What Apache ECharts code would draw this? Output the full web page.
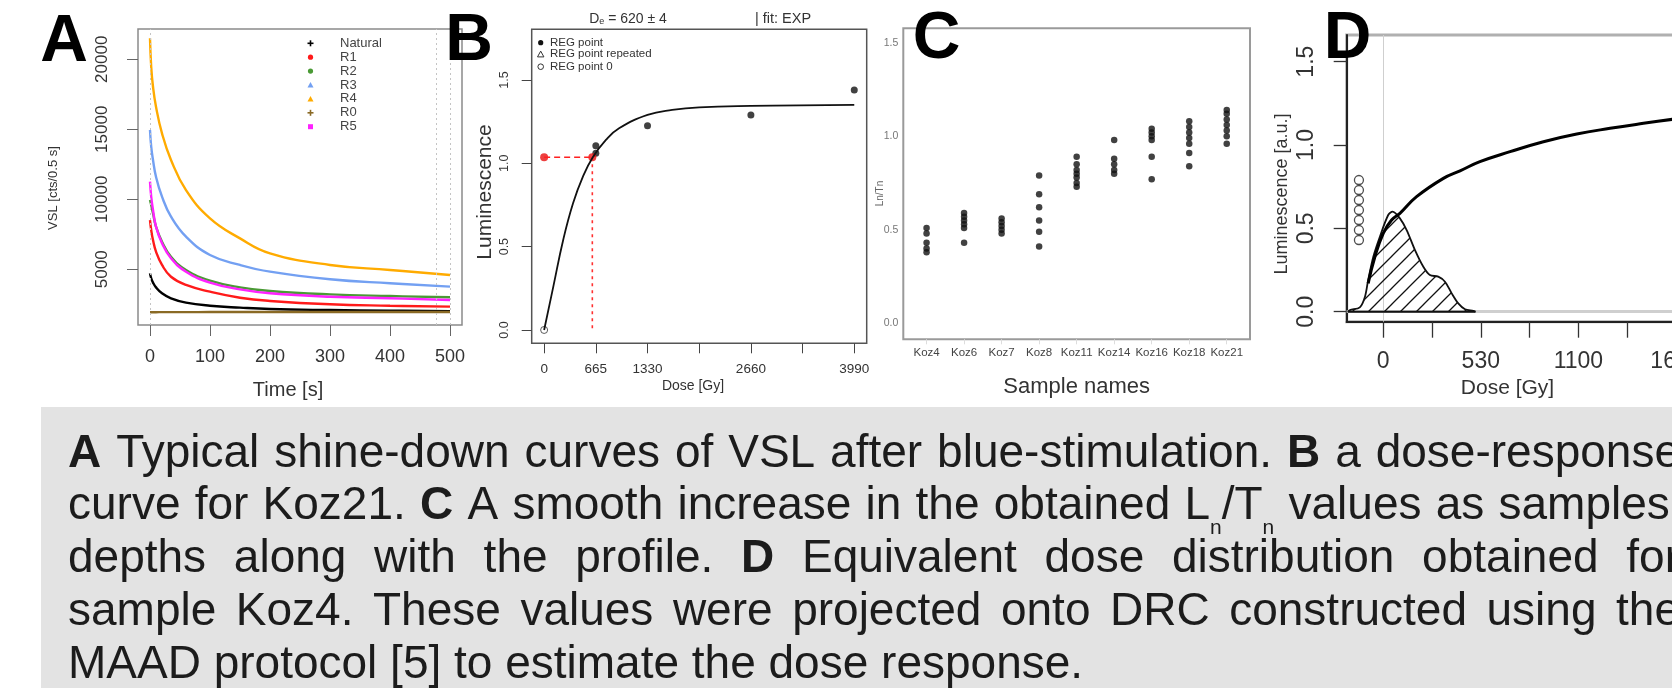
<!DOCTYPE html>
<html><head><meta charset="utf-8">
<script src="https://cdn.jsdelivr.net/npm/echarts@6/dist/echarts.min.js"></script>
<style>html,body{margin:0;padding:0;background:#fff;}#c{width:1672px;height:688px;}</style>
</head><body><div id="c"></div>
<script>
// ---------------- Panel A : shine-down curves ----------------
const A_time    = [0, 2, 5, 10, 20, 35, 60, 100, 150, 200, 300, 400, 500];
const A_natural = [4710, 4360, 4050, 3710, 3290, 2930, 2620, 2400, 2260, 2160, 2090, 2050, 2000];
const A_R1      = [8520, 7810, 7090, 6260, 5310, 4470, 3880, 3400, 2970, 2740, 2500, 2400, 2330];
const A_R2      = [9950, 9590, 9000, 8050, 6970, 5900, 4950, 4190, 3710, 3450, 3210, 3090, 3000];
const A_R3      = [14950, 13760, 12810, 11610, 10190, 8760, 7330, 6020, 5310, 4830, 4290, 4000, 3760];
const A_R4      = [21500, 19470, 18040, 16610, 14710, 12810, 10660, 8640, 7210, 6140, 5310, 4950, 4590];
const A_R0      = [1930, 1930, 1935, 1935, 1940, 1940, 1940, 1945, 1945, 1945, 1950, 1950, 1950];
const A_R5      = [11260, 10190, 9240, 8050, 6860, 5790, 4830, 4050, 3570, 3290, 3040, 2930, 2810];
const A_names   = ['Natural', 'R1', 'R2', 'R3', 'R4', 'R0', 'R5'];
const A_colors  = ['#000000', '#ff1a1a', '#4a9a35', '#73a0f2', '#ffab00', '#8a6a25', '#ff22ff'];
const A_xTicks  = [0, 100, 200, 300, 400, 500];
const A_yTicks  = [5000, 10000, 15000, 20000];
const A_bgLines = [0, 477, 500];

// ---------------- Panel B : dose-response curve ----------------
const B_regDose = [665, 665, 1330, 2660, 3990];
const B_regLum  = [1.106, 1.06, 1.226, 1.29, 1.44];
const B_reg0Dose = [0];
const B_reg0Lum  = [0];
const B_fitDose = [0, 118, 245, 372, 499, 626, 795, 964, 1330, 1647, 1995, 2660, 3990];
const B_fitLum  = [0, 0.26, 0.54, 0.76, 0.92, 1.036, 1.14, 1.21, 1.29, 1.32, 1.336, 1.344, 1.35];
const B_De = 620;
const B_LnTn = 1.036;
const B_xTicks  = [0, 665, 1330, 1995, 2660, 3325, 3990];
const B_xLabels = [0, 665, 1330, 2660, 3990];
const B_yTicks  = [0, 0.5, 1, 1.5];
const B_legend  = ['REG point', 'REG point repeated', 'REG point 0'];

// ---------------- Panel C : Ln/Tn per sample ----------------
const C_samples = ['Koz4', 'Koz6', 'Koz7', 'Koz8', 'Koz11', 'Koz14', 'Koz16', 'Koz18', 'Koz21'];
const C_Koz4  = [0.51, 0.48, 0.43, 0.40, 0.38];
const C_Koz6  = [0.59, 0.57, 0.55, 0.53, 0.51, 0.43];
const C_Koz7  = [0.56, 0.54, 0.52, 0.50, 0.48];
const C_Koz8  = [0.79, 0.69, 0.62, 0.55, 0.49, 0.41];
const C_Koz11 = [0.89, 0.85, 0.82, 0.80, 0.78, 0.75, 0.73];
const C_Koz14 = [0.98, 0.88, 0.85, 0.82, 0.80];
const C_Koz16 = [1.04, 1.02, 1.00, 0.98, 0.89, 0.77];
const C_Koz18 = [1.08, 1.05, 1.02, 0.99, 0.96, 0.91, 0.84];
const C_Koz21 = [1.14, 1.12, 1.09, 1.06, 1.03, 1.00, 0.96];
const C_values = [C_Koz4, C_Koz6, C_Koz7, C_Koz8, C_Koz11, C_Koz14, C_Koz16, C_Koz18, C_Koz21];
const C_yTicks = [0, 0.5, 1, 1.5];

// ---------------- Panel D : De distribution ----------------
const D_curveDose = [-85, -47, 0, 47, 94, 188, 339, 433, 545, 715, 903, 1091, 1279, 1467, 1629, 1750];
const D_curveLum  = [0.17, 0.33, 0.47, 0.55, 0.59, 0.69, 0.80, 0.845, 0.90, 0.96, 1.02, 1.066, 1.10, 1.13, 1.154, 1.17];
const D_densDose  = [-200, -188, -132, -103, -85, -56, -19, 28, 53, 94, 132, 179, 226, 263, 310, 348, 386, 423, 461, 508, 520];
const D_densLum   = [0, 0.01, 0.026, 0.09, 0.19, 0.33, 0.45, 0.58, 0.60, 0.56, 0.49, 0.37, 0.27, 0.22, 0.21, 0.18, 0.11, 0.05, 0.015, 0.005, 0];
const D_natDose   = -137;
const D_natLum    = [0.79, 0.73, 0.67, 0.61, 0.55, 0.49, 0.43];
const D_xTicks    = [0, 275, 550, 825, 1100, 1375, 1650];
const D_xLabelVals = [0, 550, 1100, 1650];
const D_xLabels   = ['0', '530', '1100', '1650'];
const D_yTicks    = [0, 0.5, 1, 1.5];

// ---------------- Caption ----------------
const CAP_LINES = [
  '*A* Typical shine-down curves of VSL after blue-stimulation. *B* a dose-response',
  'curve for Koz21. *C* A smooth increase in the obtained L_n/T_n values as samples\u2019',
  'depths along with the profile. *D* Equivalent dose distribution obtained for',
  'sample Koz4. These values were projected onto DRC constructed using the',
  'MAAD protocol [5] to estimate the dose response.'
];

// =====================================================================
const FAM = '"Liberation Sans", Arial, Helvetica, sans-serif';
const zip = (a, b) => a.map((v, i) => [v, b[i]]);
const chart = echarts.init(document.getElementById('c'), null, {renderer: 'canvas', width: 1672, height: 688});

// hatch pattern
const pat = document.createElement('canvas'); pat.width = 16; pat.height = 16;
(function(){ const p = pat.getContext('2d'); p.strokeStyle = '#111'; p.lineWidth = 1.3; p.beginPath();
  p.moveTo(0, 16); p.lineTo(16, 0); p.moveTo(-4, 4); p.lineTo(4, -4); p.moveTo(12, 20); p.lineTo(20, 12); p.stroke(); })();

const G = [];
function txt(x, y, s, fs, opt) {
  opt = opt || {};
  G.push({type: 'text', x: x, y: y, rotation: opt.rot || 0, z: opt.z || 5,
    style: {text: s, font: (opt.bold ? 'bold ' : '') + fs + 'px ' + FAM, fill: opt.color || '#333',
      align: opt.align || 'center', verticalAlign: opt.va || 'middle'}});
}
// caption background
G.push({type: 'rect', z: 0, shape: {x: 41, y: 407, width: 1700, height: 300}, style: {fill: '#e3e3e3'}});

// caption text (justified)
(function(){
  const FS = 46, L = 68, R = 1680, mid0 = 454, lh = 52.8;
  const m = document.createElement('canvas').getContext('2d');
  function segs(tok) {
    if (/^\*.*\*$/.test(tok)) return [{t: tok.slice(1, -1), b: true}];
    if (tok.indexOf('_') >= 0) {
      const out = [];
      tok.split(/(_.)/).forEach(p => { if (!p) return; if (p[0] === '_') out.push({t: p.slice(1), sub: true}); else out.push({t: p}); });
      return out;
    }
    return [{t: tok}];
  }
  const fontOf = s => (s.b ? 'bold ' : '') + (s.sub ? 21 : FS) + 'px ' + FAM;
  const wOf = s => { m.font = fontOf(s); return m.measureText(s.t).width; };
  m.font = FS + 'px ' + FAM; const sp = m.measureText(' ').width;
  CAP_LINES.forEach((line, li) => {
    const toks = line.split(' ').map(segs);
    const widths = toks.map(ss => ss.reduce((a, s) => a + wOf(s), 0));
    const tot = widths.reduce((a, b) => a + b, 0);
    const justify = li < CAP_LINES.length - 1;
    const gap = justify ? (R - L - tot) / (toks.length - 1) : sp;
    let x = L; const mid = mid0 + li * lh;
    toks.forEach((ss, ti) => {
      let xx = x;
      ss.forEach(s => {
        G.push({type: 'text', x: xx, y: mid + (s.sub ? 21 : 0), z: 5,
          style: {text: s.t, font: fontOf(s), fill: '#1c1c1c', align: 'left', verticalAlign: 'middle'}});
        xx += wOf(s);
      });
      x += widths[ti] + gap;
    });
  });
})();

// panel letters
txt(64, 43, 'A', 66, {bold: true, color: '#000', z: 20});
txt(469, 42, 'B', 66, {bold: true, color: '#000', z: 20});
txt(936.5, 40, 'C', 66, {bold: true, color: '#000', z: 20});
txt(1347.5, 40, 'D', 66, {bold: true, color: '#000', z: 20});

// axis titles
txt(53, 188, 'VSL [cts/0.5 s]', 13, {rot: Math.PI / 2});
txt(288, 390, 'Time [s]', 20);
txt(485, 192, 'Luminescence', 21, {rot: Math.PI / 2});
txt(693, 386, 'Dose [Gy]', 14);
txt(1076.7, 386.7, 'Sample names', 22);
txt(880.7, 193.5, 'Ln/Tn', 10, {rot: Math.PI / 2, color: '#666'});
txt(1281.7, 194, 'Luminescence [a.u.]', 18, {rot: Math.PI / 2});
txt(1507.5, 388.3, 'Dose [Gy]', 21);

// panel B title
G.push({type: 'text', x: 628, y: 19, z: 5, style: {text: '{m|D}{s|e}{m| = 620 \u00b1 4}', font: '14px ' + FAM, fill: '#333', align: 'center', verticalAlign: 'middle',
  rich: {m: {fontSize: 14, fontFamily: FAM, fill: '#333'}, s: {fontSize: 9, fontFamily: FAM, fill: '#333', padding: [6, 0, 0, 0]}}}});
txt(783, 19, '| fit: EXP', 14.5);

// legend A
A_names.forEach((n, i) => {
  const y = 43.3 + 13.9 * i, x = 310.5, c = A_colors[i];
  if (i === 3 || i === 4) G.push({type: 'polygon', z: 5, shape: {points: [[x, y - 3], [x - 3, y + 2.5], [x + 3, y + 2.5]]}, style: {fill: c}});
  else if (i === 0 || i === 5) G.push({type: 'polyline', z: 5, shape: {points: [[x - 3, y], [x + 3, y]]}, style: {stroke: c, lineWidth: 1.6}},
                                      {type: 'polyline', z: 5, shape: {points: [[x, y - 3], [x, y + 3]]}, style: {stroke: c, lineWidth: 1.6}});
  else if (i === 6) G.push({type: 'rect', z: 5, shape: {x: x - 2.5, y: y - 2.5, width: 5, height: 5}, style: {fill: c}});
  else G.push({type: 'circle', z: 5, shape: {cx: x, cy: y, r: 2.6}, style: {fill: c}});
  txt(340, y, n, 13, {align: 'left', color: '#444'});
});
// legend B
(function(){
  const x = 540.7, ys = [42.7, 54.3, 66.7];
  G.push({type: 'circle', z: 5, shape: {cx: x, cy: ys[0], r: 2.6}, style: {fill: '#111'}});
  G.push({type: 'polygon', z: 5, shape: {points: [[x, ys[1] - 3.2], [x - 3.2, ys[1] + 2.6], [x + 3.2, ys[1] + 2.6]]}, style: {fill: 'none', stroke: '#333', lineWidth: 1}});
  G.push({type: 'circle', z: 5, shape: {cx: x, cy: ys[2], r: 2.8}, style: {fill: 'none', stroke: '#333', lineWidth: 1}});
  B_legend.forEach((n, i) => txt(550, ys[i], n, 11.5, {align: 'left'}));
})();

const lab = (extra) => Object.assign({color: '#333', fontFamily: FAM}, extra);
const plain = v => String(v);
const series = [];
// ---- A series
const A_data = [A_natural, A_R1, A_R2, A_R3, A_R4, A_R0, A_R5];
A_names.forEach((n, i) => {
  const s = {name: n, type: 'line', xAxisIndex: 0, yAxisIndex: 0, data: zip(A_time, A_data[i]), smooth: 0.45,
    showSymbol: false, silent: true, lineStyle: {color: A_colors[i], width: 2.4}, itemStyle: {color: A_colors[i]}};
  if (i === 0) s.markLine = {silent: true, symbol: ['none', 'none'], label: {show: false},
    lineStyle: {type: [2, 3], color: '#c4c4c4', width: 1}, data: A_bgLines.map(v => ({xAxis: v}))};
  series.push(s);
});
// ---- B series
series.push({type: 'line', xAxisIndex: 1, yAxisIndex: 1, data: [[0, B_LnTn], [B_De, B_LnTn]], showSymbol: false, silent: true,
  lineStyle: {color: '#ff2020', width: 1.6, type: [6, 4]}});
series.push({type: 'line', xAxisIndex: 1, yAxisIndex: 1, data: [[B_De, B_LnTn], [B_De, 0]], showSymbol: false, silent: true,
  lineStyle: {color: '#ff3030', width: 1.6, type: [3, 4]}});
series.push({type: 'line', xAxisIndex: 1, yAxisIndex: 1, data: zip(B_fitDose, B_fitLum), smooth: 0.45, showSymbol: false, silent: true,
  lineStyle: {color: '#111', width: 1.8}});
series.push({type: 'scatter', xAxisIndex: 1, yAxisIndex: 1, data: zip(B_regDose, B_regLum), symbol: 'circle', symbolSize: 7, silent: true, itemStyle: {color: '#111'}});
series.push({type: 'scatter', xAxisIndex: 1, yAxisIndex: 1, data: zip(B_reg0Dose, B_reg0Lum), symbol: 'circle', symbolSize: 7, silent: true,
  itemStyle: {color: '#fff', borderColor: '#333', borderWidth: 1}});
series.push({type: 'scatter', xAxisIndex: 1, yAxisIndex: 1, data: [[0, B_LnTn], [B_De, B_LnTn]], symbol: 'circle', symbolSize: 8, silent: true, itemStyle: {color: '#e81010'}});
// ---- C series
const C_pts = [];
C_values.forEach((arr, i) => arr.forEach(v => C_pts.push([i + 1, v])));
series.push({type: 'scatter', xAxisIndex: 2, yAxisIndex: 2, data: C_pts, symbol: 'circle', symbolSize: 6.5, silent: true, itemStyle: {color: '#111'}});
// ---- D series
series.push({type: 'line', xAxisIndex: 3, yAxisIndex: 3, data: zip(D_densDose, D_densLum), smooth: 0.3, showSymbol: false, silent: true,
  lineStyle: {color: '#111', width: 1.8}, areaStyle: {color: {image: pat, repeat: 'repeat'}, opacity: 1},
  markLine: {silent: true, symbol: ['none', 'none'], label: {show: false}, z: 1,
    data: [{yAxis: 0, lineStyle: {color: '#cfcfcf', width: 3, type: 'solid'}}, {xAxis: 0, lineStyle: {color: '#cfcfcf', width: 1, type: 'solid'}}]}});
series.push({type: 'line', xAxisIndex: 3, yAxisIndex: 3, data: [[D_densDose[0], 0], [D_densDose[D_densDose.length - 1], 0]], showSymbol: false, silent: true,
  lineStyle: {color: '#111', width: 2}});
series.push({type: 'line', xAxisIndex: 3, yAxisIndex: 3, data: zip(D_curveDose, D_curveLum), smooth: 0.45, showSymbol: false, silent: true,
  lineStyle: {color: '#000', width: 3}});
series.push({type: 'scatter', xAxisIndex: 3, yAxisIndex: 3, data: D_natLum.map(v => [D_natDose, v]), symbol: 'circle', symbolSize: 9, silent: true,
  itemStyle: {color: 'rgba(255,255,255,0)', borderColor: '#222', borderWidth: 1.3}});

const noSplit = {show: false};
const option = {
  animation: false,
  backgroundColor: '#fff',
  textStyle: {fontFamily: FAM},
  grid: [
    {left: 138, top: 29, width: 324, height: 296, show: true, borderColor: '#8a8a8a', borderWidth: 1.5, outerBoundsMode: 'none'},
    {left: 531.7, top: 29.3, width: 335, height: 314, show: true, borderColor: '#555', borderWidth: 1.5, outerBoundsMode: 'none'},
    {left: 903.3, top: 28.3, width: 346.7, height: 311, show: true, borderColor: '#9a9a9a', borderWidth: 2, outerBoundsMode: 'none'},
    {left: 1346.7, top: 35, width: 480, height: 286.7, show: true, borderColor: '#b0b0b0', borderWidth: 3, outerBoundsMode: 'none'}
  ],
  xAxis: [
    {gridIndex: 0, type: 'value', min: -20, max: 520, splitLine: noSplit, axisLine: {show: false, onZero: false},
      axisTick: {customValues: A_xTicks, length: 11, lineStyle: {color: '#666'}},
      axisLabel: lab({customValues: A_xTicks, fontSize: 18, margin: 23, formatter: plain})},
    {gridIndex: 1, type: 'value', min: -160, max: 4150, splitLine: noSplit, axisLine: {show: false, onZero: false},
      axisTick: {customValues: B_xTicks, length: 10, lineStyle: {color: '#444'}},
      axisLabel: lab({customValues: B_xLabels, fontSize: 13.5, margin: 19, formatter: plain})},
    {gridIndex: 2, type: 'value', min: 0.38, max: 9.62, splitLine: noSplit, axisLine: {show: false, onZero: false},
      axisTick: {customValues: [1, 2, 3, 4, 5, 6, 7, 8, 9], length: 5, lineStyle: {color: '#ddd'}},
      axisLabel: lab({customValues: [1, 2, 3, 4, 5, 6, 7, 8, 9], fontSize: 11.5, margin: 8, color: '#444',
        formatter: v => C_samples[Math.round(v) - 1]})},
    {gridIndex: 3, type: 'value', min: -206, max: 2500, splitLine: noSplit, axisLine: {show: true, onZero: false, lineStyle: {color: '#222', width: 2}},
      axisTick: {customValues: D_xTicks, length: 16, lineStyle: {color: '#333', width: 1.3}},
      axisLabel: lab({customValues: D_xLabelVals, fontSize: 23, margin: 28, formatter: v => D_xLabels[D_xLabelVals.indexOf(v)]})}
  ],
  yAxis: [
    {gridIndex: 0, type: 'value', min: 1021, max: 22164, splitLine: noSplit, axisLine: {show: false, onZero: false},
      axisTick: {customValues: A_yTicks, length: 11, lineStyle: {color: '#666'}},
      axisLabel: lab({customValues: A_yTicks, fontSize: 17, margin: 27, rotate: 90, formatter: plain})},
    {gridIndex: 1, type: 'value', min: -0.08, max: 1.804, splitLine: noSplit, axisLine: {show: false, onZero: false},
      axisTick: {customValues: B_yTicks, length: 10, lineStyle: {color: '#444'}},
      axisLabel: lab({customValues: B_yTicks, fontSize: 12.5, margin: 20.5, rotate: 90, formatter: v => v.toFixed(1)})},
    {gridIndex: 2, type: 'value', min: -0.0856, max: 1.577, splitLine: noSplit, axisLine: {show: false, onZero: false},
      axisTick: {show: false},
      axisLabel: lab({customValues: C_yTicks, fontSize: 10.5, margin: 5, color: '#777', formatter: v => v.toFixed(1)})},
    {gridIndex: 3, type: 'value', min: -0.06, max: 1.66, splitLine: noSplit, axisLine: {show: true, onZero: false, lineStyle: {color: '#222', width: 2}},
      axisTick: {customValues: D_yTicks, length: 13, lineStyle: {color: '#333', width: 1.3}},
      axisLabel: lab({customValues: D_yTicks, fontSize: 23, margin: 28.5, rotate: 90, formatter: v => v.toFixed(1)})}
  ],
  graphic: {elements: G},
  series: series
};
chart.setOption(option);
</script></body></html>
